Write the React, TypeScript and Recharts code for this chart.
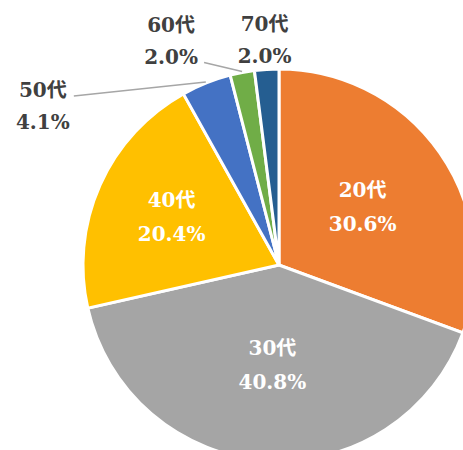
import { PieChart, Pie, Cell } from 'recharts';

const ageGroups = ['20代', '30代', '40代', '50代', '60代', '70代'];
const shares = [30.6, 40.8, 20.4, 4.1, 2.0, 2.0];
const colors = ['#ED7D31', '#A5A5A5', '#FFC000', '#4472C4', '#70AD47', '#255E91'];

const data = ageGroups.map((name, i) => ({ name, value: shares[i] }));

const RADIAN = Math.PI / 180;
const FONT = "'DejaVu Serif', 'Noto Sans CJK JP', serif";

// inner label radius as fraction of the pie radius
const innerFactor = [0.52, 0.51, 0.6];
// outer labels: offset of text centre from the slice edge, and leader line end
const outerLayout: Record<number, { dx: number; dy: number; line?: [number, number] }> = {
    3: { dx: -163, dy: 24, line: [-132, 14] },
    4: { dx: -71, dy: -30, line: [-38, -9] },
    5: { dx: -2, dy: -28 },
};

function renderLabel(props: any) {
    const { cx, cy, midAngle, outerRadius, index, name, value } = props;
    const cos = Math.cos(-midAngle * RADIAN);
    const sin = Math.sin(-midAngle * RADIAN);
    const pct = `${Number(value).toFixed(1)}%`;

    if (index < 3) {
        const r = outerRadius * innerFactor[index];
        const x = cx + r * cos;
        const y = cy + r * sin;
        return (
            <g key={`l-${index}`}>
                <text x={x} y={y - 17} fill="#fff" textAnchor="middle" dominantBaseline="central" fontFamily={FONT} fontSize={20} fontWeight={700}>
                    {name}
                </text>
                <text x={x} y={y + 17} fill="#fff" textAnchor="middle" dominantBaseline="central" fontFamily={FONT} fontSize={20} fontWeight={700}>
                    {pct}
                </text>
            </g>
        );
    }

    const ex = cx + (outerRadius + 1) * cos;
    const ey = cy + (outerRadius + 1) * sin;
    const lay = outerLayout[index];
    const x = ex + lay.dx;
    const y = ey + lay.dy;
    return (
        <g key={`l-${index}`}>
            {lay.line && (
                <line x1={ex} y1={ey} x2={ex + lay.line[0]} y2={ey + lay.line[1]} stroke="#A6A6A6" strokeWidth={1.5} />
            )}
            <text x={x} y={y - 16} fill="#404040" textAnchor="middle" dominantBaseline="central" fontFamily={FONT} fontSize={20} fontWeight={700}>
                {name}
            </text>
            <text x={x} y={y + 16} fill="#404040" textAnchor="middle" dominantBaseline="central" fontFamily={FONT} fontSize={20} fontWeight={700}>
                {pct}
            </text>
        </g>
    );
}

export default function App() {
    return (
        <div style={{ position: 'absolute', left: 0, top: 0, width: 463, height: 450, background: '#fff' }}>
            <PieChart width={463} height={450} margin={{ top: 0, right: 0, bottom: 0, left: 0 }} style={{ overflow: 'hidden' }}>
                <Pie
                    data={data}
                    dataKey="value"
                    nameKey="name"
                    cx={279}
                    cy={265}
                    outerRadius={196}
                    startAngle={90}
                    endAngle={-270}
                    stroke="#fff"
                    strokeWidth={3}
                    label={renderLabel}
                    labelLine={false}
                    isAnimationActive={false}
                >
                    {data.map((d, i) => (
                        <Cell key={d.name} fill={colors[i]} />
                    ))}
                </Pie>
            </PieChart>
        </div>
    );
}
